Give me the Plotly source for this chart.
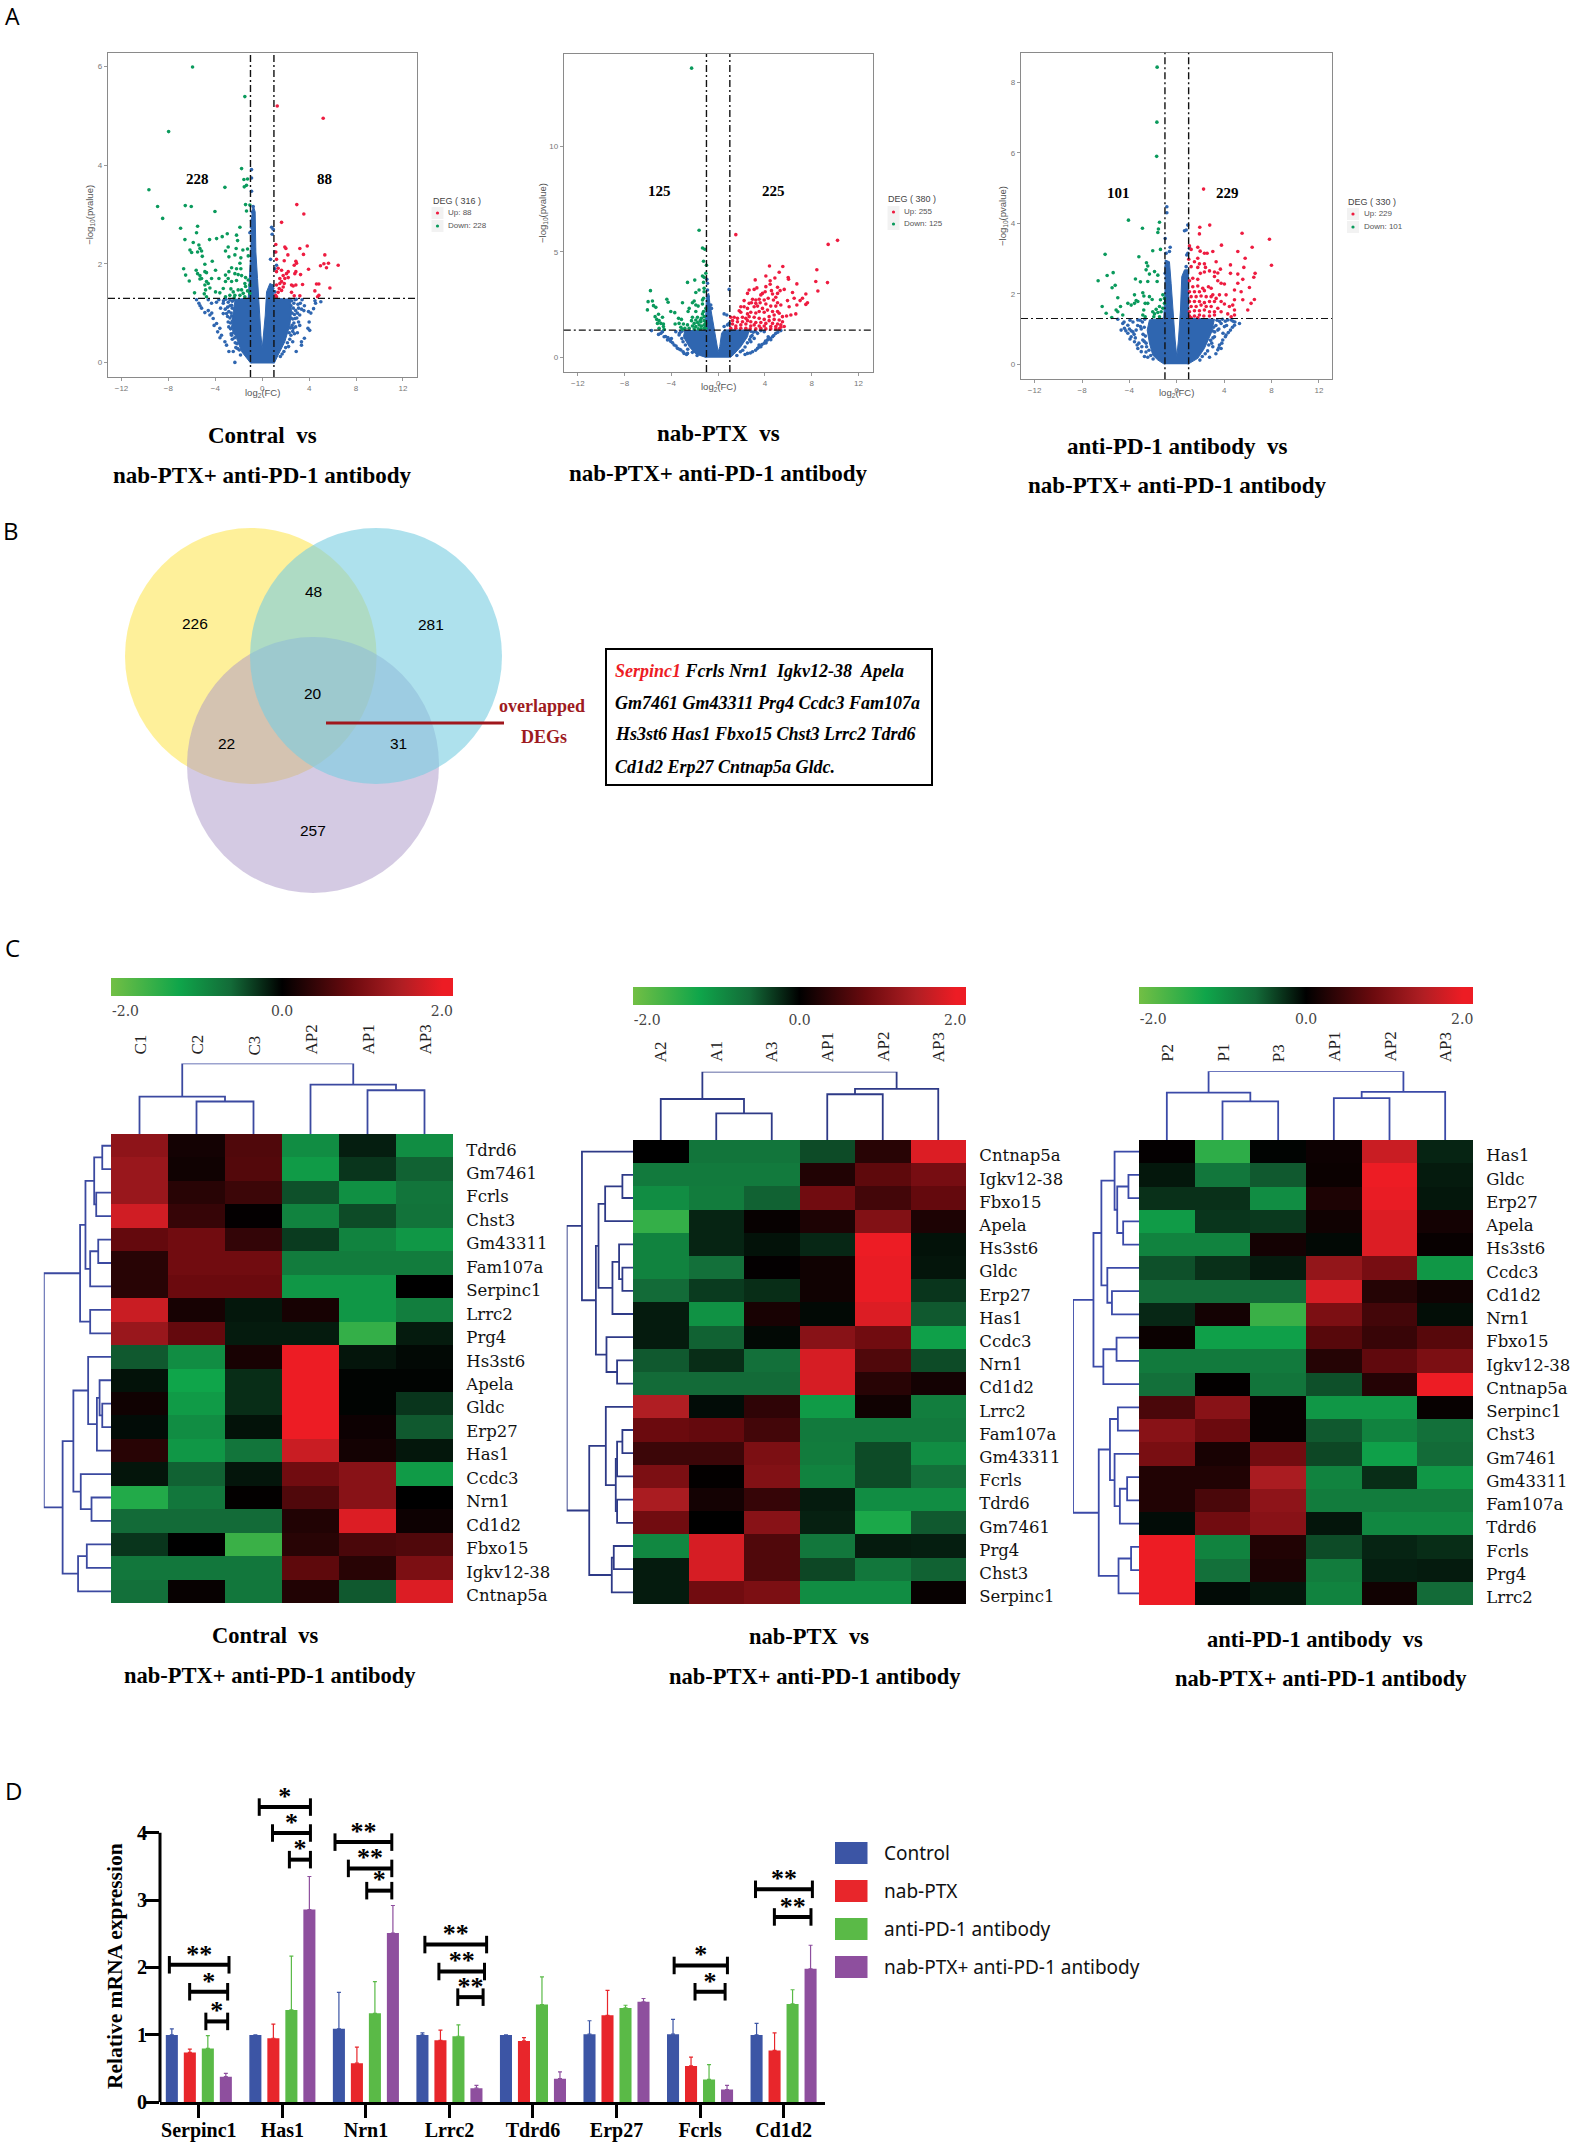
import plotly.graph_objects as go

W, H = 1577, 2143
SERIF = "Liberation Serif"
SANS = "Liberation Sans"

# ---- volcano data (log2FC, -log10 p)
v1_green = [(-5.94,5.99),(-1.48,5.39),(-7.98,4.68),(-1.76,3.93),(-9.66,3.5),(-3.18,3.55),(-1.56,3.71),(-1.25,3.72),(-1.53,3.56),(-1.34,3.59),
    (-8.92,3.16),(-6.56,3.18),(-6.05,3.16),(-8.49,2.92),(-4.03,3.06),(-1.42,3.2),(-1.05,3.19),(-1.34,3.07),(-6.96,2.72),(-5.51,2.76),(-5.6,2.63),
    (-1.9,2.74),(-2.98,2.61),(-3.41,2.55),(-3.89,2.51),(-4.49,2.49),(-6.59,2.49),(-5.88,2.43),(-2.19,2.58),(-2.1,2.47),(-2.22,2.31),(-5.4,2.38),
    (-5.31,2.31),(-5.17,2.26),(-6.16,2.28),(-5.51,2.24),(-6.02,2.23),(-5.11,2.15),(-2.9,2.34),(-3.13,2.26),(-2.84,2.14),(-1.65,2.28),(-1.25,2.3),
    (-1.19,2.16),(-1.82,2.12),(-2.33,2.18),(-1.9,2.01),(-4.26,2.05),(-6.7,1.9),(-4.89,1.99),(-6.53,1.77),(-6.22,1.65),(-5.63,1.87),(-5.51,1.8),
    (-5.31,1.76),(-5.17,1.7),(-4.89,1.84),(-4.75,1.82),(-5.31,1.69),(-3.98,1.87),(-4.32,1.7),(-3.69,1.7),(-4.75,1.64),(-4.6,1.6),(-4.89,1.57),
    (-4.83,1.47),(-4.94,1.39),(-4.75,1.33),(-4.46,1.51),(-5.77,1.41),(-2.84,1.84),(-2.61,1.92),(-2.19,1.9),(-1.82,1.9),(-2.33,1.8),(-3.13,1.77),
    (-2.9,1.7),(-2.61,1.64),(-2.05,1.78),(-1.76,1.76),(-1.42,1.72),(-1.19,1.67),(-1.48,1.6),(-2.19,1.66),(-3.13,1.64),(-3.32,1.5),(-2.67,1.49),
    (-2.47,1.43),(-2.05,1.47),(-1.76,1.47),(-1.42,1.54),(-1.05,1.57),(-1.25,1.45),(-1.62,1.4),(-1.9,1.36),(-2.33,1.36),(-2.76,1.36),(-3.13,1.33),
    (-1.48,1.33),(-1.05,1.4),(-2.39,1.31),(-3.61,1.41),(-3.98,1.43)]
v1_red = [(1.28,5.2),(5.2,4.95),(2.95,3.2),(3.55,3.01),(1.65,2.84),(1.16,2.39),(1.93,2.34),(2.02,2.31),(3.21,2.31),(3.84,2.36),(3.52,2.19),(2.19,2.18),
    (1.16,2.24),(1.22,2.09),(1.88,2.06),(5.34,2.18),(2.87,2.05),(2.93,2.01),(5.26,2.0),(5.65,2.01),(4.97,1.96),(5.48,1.92),(6.48,1.97),(3.95,1.89),
    (2.73,1.97),(1.36,1.91),(1.22,1.84),(1.65,1.87),(1.79,1.76),(2.07,1.8),(2.22,1.84),(1.5,1.7),(1.93,1.7),(2.22,1.72),(1.65,1.64),(1.88,1.6),(1.5,1.6),
    (1.22,1.57),(1.45,1.5),(1.79,1.53),(1.36,1.42),(1.14,1.36),(1.65,1.46),(1.22,1.33),(2.78,1.8),(3.27,1.78),(2.87,1.84),(2.64,1.55),(2.87,1.57),
    (3.44,1.58),(2.5,1.42),(2.73,1.35),(3.21,1.35),(4.63,1.59),(4.83,1.59),(5.77,1.51),(4.49,1.45),(4.83,1.36),(4.72,1.33),(2.5,1.57)]
v1_blue = [(-5.6,1.27),(-5.4,1.2),(-5.17,1.1),(-4.89,1.01),(-4.46,0.96),(-4.18,0.89),(-3.89,0.79),(-3.61,0.69),(-3.47,0.55),(-3.18,0.42),(-3.04,0.35),
    (-2.84,0.22),(-2.47,0.22),(-2.33,0),(-4.6,1.27),(-4.32,1.2),(-3.32,0.99),(-3.04,0.99),(-3.32,1.2),(-2.61,1.16),(-2.39,0.89),(-2.61,0.55),(-5.3,1.15),
    (-4.6,1.05),(-4.3,1.0),(-4.1,0.75),(-3.8,0.62),(-3.6,0.5),(5.0,1.23),(4.55,1.2),(4.38,1.09),(4.15,1.0),(4.0,0.82),(3.9,0.69),(3.6,0.49),(3.35,0.42),
    (3.35,0.35),(2.9,0.22),(3.2,0.96),(3.1,1.1),(2.8,0.89),(2.65,0.69),(2.8,1.27),(3.95,1.03),(4.5,1.25),(3.2,0.75),(3.0,1.0),(4.05,0.65),
    (-0.91,3.91),(-0.91,3.74),(-0.91,3.47),(-0.77,3.16),(-0.91,2.87),(-0.91,2.74),(-1.05,2.63),(-0.85,2.35),(0.8,2.74),(0.94,2.7),(0.85,2.6),(1.08,2.24),
    (0.71,2.09),(1.22,1.97),(1.08,1.9),(1.08,1.43),(-0.8,2.9),(-0.85,3.05),(-0.78,2.55),(-0.7,2.3),(-0.9,2.15),(0.9,1.5),(0.85,1.55),(0.95,1.35),
    (-3.3,1.25),(-3.1,1.28),(-2.9,1.22),(-2.75,1.27),(-2.55,1.24),(-2.4,1.27),(-2.95,1.12),(-2.75,1.15),(-2.55,1.1),(-3.15,1.08),(-2.85,1.03),(-2.65,1.0),
    (-2.95,.93),(-2.75,.9),(-2.6,.94),(-2.9,.82),(-2.7,.8),(-2.55,.84),(-2.85,.72),(-2.7,.68),(-2.5,.72),(-2.65,.58),(-2.45,.6),(-2.55,.47),(-2.35,.5),
    (-2.3,.4),(-2.15,.38),(-2.1,.28),(-1.95,.25),(-1.85,.15),(-2.25,.3),(-3.7,1.27),(-3.9,1.22),(-3.55,1.1),(2.3,1.28),(2.5,1.25),(2.7,1.2),(2.9,1.28),
    (2.45,1.15),(2.65,1.1),(2.85,1.05),(2.55,1.0),(2.75,.97),(2.6,.88),(2.45,.9),(2.7,.8),(2.55,.75),(2.4,.7),(2.6,.63),(2.45,.55),(2.3,.6),(2.35,.47),
    (2.15,.4),(2.25,.32),(2.0,.3),(1.85,.22),(1.7,.17),(1.55,.12),(3.05,1.18),(3.25,1.2),(3.4,1.27),(3.55,1.05),(3.35,1.08),(3.6,1.15),(2.95,.9),(3.1,.82),
    (2.85,.72),(3.0,.6),(2.75,.58),(2.6,.42)]
# outline of the solid blue mass
v1_mass = [(-0.97,-0.02),(-1.76,0.22),(-2.19,0.49),(-2.61,0.69),(-2.47,1.03),(-2.3,1.28),(-1.19,1.3),(-1.05,1.84),(-0.97,2.24),(-0.91,2.92),(-0.77,3.19),
    (-0.6,3.05),(-0.54,2.24),(-0.4,1.7),(-0.28,1.16),(-0.11,0.55),(0,0.28),(0.11,0.55),(0.26,0.96),(0.37,1.43),(0.65,1.6),(0.94,1.57),(1.0,1.3),
    (2.4,1.28),(2.5,1.03),(2.36,0.76),(1.93,0.42),(1.36,0.15),(1.02,-0.02)]

v2_green = [(-2.27,13.7),(-1.63,6.03),(-1.34,5.19),(-1.14,5.13),(-1.25,4.56),(-1,4.37),(-1.05,3.99),(-1.34,3.86),(-1.2,3.8),(-2,3.67),(-2.62,3.56),(-1.25,3.56),
    (-5.79,3.17),(-1.2,3.28),(-1.63,3.2),(-1.91,3.08),(-1.2,3.12),(-5.99,2.65),(-5.62,2.68),(-4.39,2.76),(-4.28,2.62),(-1.25,2.81),(-2.05,2.68),(-2.2,2.6),
    (-3.05,2.6),(-1.34,2.73),(-6.05,2.26),(-5.53,2.46),(-5.33,2.38),(-4.05,2.18),(-3.71,2.13),(-2.48,2.33),(-2.57,2.18),(-1.91,2.49),(-1.71,2.44),(-1.34,2.54),
    (-1.05,2.33),(-1.25,2.18),(-1.91,2.18),(-5.1,2.05),(-5.39,1.94),(-5.25,1.81),(-5.05,1.75),(-5.19,1.62),(-4.9,1.62),(-4.68,1.59),(-5.05,1.39),(-4.68,1.47),
    (-4.62,1.34),(-4.76,1.91),(-3.39,1.86),(-3.14,1.81),(-3.34,1.62),(-2.97,1.59),(-3.68,1.59),(-3.19,1.44),(-2.62,1.55),(-2.48,1.39),(-2.85,1.39),(-3.05,1.34),
    (-2.2,1.91),(-1.91,1.78),(-1.77,1.91),(-1.43,1.86),(-1.2,1.94),(-2.28,1.75),(-2.05,1.62),(-1.77,1.66),(-1.48,1.7),(-1.2,1.75),(-1.05,1.62),(-2.2,1.5),
    (-1.91,1.47),(-1.63,1.55),(-1.43,1.5),(-1.2,1.55),(-2.05,1.36),(-1.71,1.36),(-1.48,1.36),(-1.2,1.39),(-1.05,1.39),(-1.54,1.75),(-1.34,2.07)]
v2_red = [(1.51,5.82),(10.21,5.55),(9.41,5.36),(4.39,4.34),(5.53,4.31),(5.22,4.04),(4.08,3.86),(4.85,3.77),(5.99,3.79),(6.02,3.71),(8.44,4.16),(3.17,3.68),
    (4.45,3.64),(4.45,3.47),(6.73,3.49),(8.35,3.6),(9.35,3.55),(8.53,3.15),(4.08,3.36),(5.08,3.33),(3.31,3.3),(3.08,3.23),(2.65,3.2),(2.51,3.04),(5.3,3.17),
    (5.65,3.23),(4.56,3.17),(4.02,3.12),(3.79,3.04),(4.65,3.01),(5.08,3.04),(6.36,3.08),(7.5,3.01),(3.65,2.97),(4.93,2.86),(4.28,2.81),(6.5,2.81),(5.93,2.7),
    (7.21,2.81),(7.01,2.7),(7.64,2.6),(7.5,2.52),(2.22,2.7),(2.94,2.76),(3.22,2.73),(3.51,2.76),(3.94,2.73),(4.73,2.73),(5.08,2.6),(5.36,2.49),(6.73,2.49),
    (6.07,2.41),(2.65,2.57),(2.85,2.6),(3.22,2.57),(3.59,2.6),(4.08,2.54),(4.5,2.44),(4.93,2.44),(1.94,2.41),(2.22,2.41),(1.8,2.22),(2.51,2.33),(3.08,2.41),
    (3.37,2.44),(3.79,2.33),(4.22,2.25),(4.65,2.18),(5.08,2.18),(1.94,2.15),(2.51,2.07),(2.79,2.15),(3.22,2.11),(3.51,2.18),(3.94,2.15),(4.36,1.94),(4.79,2.02),
    (5.22,2.1),(6.22,2.02),(6.64,2.07),(5.85,1.97),(5.5,1.94),(1.08,1.91),(1.37,1.91),(1.65,1.86),(2.08,1.91),(2.37,1.86),(2.65,1.94),(3.08,1.91),(3.51,1.86),
    (3.94,1.81),(4.36,1.75),(4.79,1.81),(5.22,1.78),(5.5,1.7),(1.23,1.75),(1.65,1.7),(2.08,1.7),(2.51,1.75),(2.79,1.7),(3.22,1.66),(3.65,1.66),(4.08,1.62),
    (4.65,1.62),(5.08,1.59),(5.36,1.55),(1.23,1.59),(1.51,1.5),(1.94,1.55),(2.37,1.59),(2.79,1.5),(3.08,1.55),(3.51,1.5),(3.94,1.5),(4.5,1.47),(4.93,1.47),
    (5.36,1.44),(5.65,1.47),(1.08,1.39),(1.51,1.39),(1.94,1.39),(2.37,1.39),(2.74,1.36),(3.22,1.36),(3.65,1.39),(4.08,1.36),(4.5,1.36),(4.93,1.36),(5.22,1.36)]
v2_blue = [(-5.7,1.28),(-5.1,1.1),(-4.76,1.23),(-4.62,0.99),(-4.33,0.84),(-4.05,0.76),(-3.76,0.6),(-3.48,0.44),(-3.19,0.36),(-2.91,0.2),(-2.62,0.2),(-3.34,1.07),
    (-3.19,1.23),(-3.62,1.23),(-4.3,0.95),(-4,0.9),(5.36,1.28),(4.93,1.15),(4.65,0.99),(4.22,0.84),(3.94,0.68),(3.65,0.52),(3.37,0.44),(2.94,0.28),(2.51,0.2),
    (3.94,1.23),(3.37,1.15),(3.08,0.91),(3.65,1.28),(2.79,0.99),(4.28,0.99),(4.5,0.85),(4.1,0.7),(3.5,0.6),(2.8,0.75),(-0.97,3.71),(-0.91,3.52),(0.94,3.23),
    (-0.91,3.2),(-0.86,2.89),(-0.63,2.49),(-0.57,2.33),(0.51,2.07),(0.74,2.02),(0.51,1.47),(0.8,1.55),(0.94,1.62),
    (-3.1,1.25),(-3.3,1.15),(-3.1,.9),(-3.0,.75),(-2.8,.6),(-2.6,.4),(-2.2,.25),(-1.8,.1),(2.8,1.25),(3.0,1.2),(2.9,1.05),(2.7,.85),(2.5,.7),(2.3,.5),(2.1,.35),
    (1.9,.28),(1.6,.1),(3.2,1.25),(-4.9,1.15),(-4.5,1.0),(-4.15,.85),(-3.9,.7),(-3.6,.55),(-3.3,.4),(-3.0,.28),(5.1,1.2),(4.75,1.05),(4.4,.92),(4.05,.78),
    (3.75,.62),(3.5,.5),(3.2,.35),(2.75,.22),(2.3,.15),(-2.7,.15)]
v2_mass = [(-1,0),(-1.91,0.17),(-2.48,0.52),(-2.97,0.99),(-2.85,1.28),(-1.2,1.29),(-1.05,2.1),(-1,2.97),(-0.8,3.04),(-0.71,2.57),(-0.54,2.02),(-0.34,1.31),
    (-0.11,0.52),(0,0.28),(0.14,0.52),(0.29,1.15),(0.51,1.31),(2.65,1.31),(2.51,0.99),(1.94,0.52),(1.37,0.17),(1.03,0)]

v3_green = [(-1.66,8.43),(-1.68,6.87),(-1.7,5.9),(-4.08,4.09),(-2.9,3.86),(-1.46,4.03),(-1.55,3.84),(-1.6,3.74),(-6.05,3.12),(-3.2,3.05),(-2.03,3.22),(-1.38,3.26),
    (-2.56,2.88),(-2.45,2.79),(-2.59,2.68),(-5.37,2.6),(-5.88,2.52),(-6.64,2.37),(-2.31,2.56),(-1.88,2.63),(-1.6,2.53),(-3.49,2.42),(-3.07,2.34),(-2.45,2.35),
    (-1.66,2.35),(-5.2,2.24),(-5.46,2.17),(-4.98,1.89),(-3.57,1.97),(-2.87,2.03),(-2.78,1.94),(-2.31,1.92),(-2.08,1.84),(-2.45,1.73),(-2.67,1.73),(-3.43,1.81),
    (-3.29,1.78),(-3.57,1.73),(-4.13,1.73),(-3.85,1.68),(-6.3,1.64),(-5.96,1.45),(-5.49,1.33),(-4.98,1.49),(-4.75,1.64),(-4.56,1.4),(-5.12,1.54),(-1.18,1.97),
    (-1.04,1.87),(-1.38,1.83),(-1.04,1.73),(-1.46,1.64),(-1.18,1.59),(-1.74,1.56),(-2.03,1.49),(-1.6,1.47),(-1.88,1.43),(-1.32,1.49),(-1.94,1.35),(-1.46,1.35),
    (-2.79,1.54),(-2.87,1.4),(-2.67,1.35)]
v3_red = [(2.26,4.97),(1.94,3.89),(2.78,3.95),(1.91,3.7),(5.51,3.72),(7.82,3.55),(6.36,3.32),(3.77,3.38),(7.99,2.81),(1.07,3.36),(1.21,3.26),(1.77,3.32),(1.97,3.21),
    (2.33,3.15),(2.56,3.15),(3.04,3.2),(5.15,3.2),(5.77,3.01),(1.01,2.98),(1.77,3.01),(1.49,2.91),(1.91,2.85),(2.33,2.85),(2.42,2.75),(3.32,2.91),(1.77,2.75),
    (1.21,2.77),(4.53,2.82),(5.66,2.75),(3.68,2.7),(2.76,2.65),(3.18,2.62),(3.46,2.59),(4.53,2.58),(5.15,2.56),(5.57,2.41),(6.61,2.58),(6.5,2.47),(2.33,2.62),
    (1.99,2.58),(1.35,2.44),(1.77,2.41),(1.07,2.37),(3.46,2.37),(3.18,2.49),(3.74,2.3),(5.15,2.3),(6.13,2.18),(4.87,2.11),(5.43,2.06),(6.55,1.84),(6.27,1.73),
    (5.57,1.83),(4.87,1.83),(4.72,1.68),(5.99,1.54),(4.02,2.28),(1.35,2.2),(1.77,2.22),(2.19,2.16),(2.67,2.2),(2.9,2.16),(1.07,2.06),(1.49,2.06),(1.91,2.06),
    (2.33,2.09),(3.04,1.97),(3.6,1.97),(4.16,1.97),(1.21,1.92),(1.63,1.92),(2.05,1.94),(2.48,1.92),(2.9,1.92),(3.32,1.87),(1.07,1.78),(1.49,1.78),(1.91,1.78),
    (2.33,1.75),(2.76,1.78),(3.18,1.78),(3.74,1.78),(4.02,1.71),(1.21,1.64),(1.63,1.64),(2.05,1.68),(2.48,1.64),(2.9,1.64),(3.46,1.59),(4.44,1.64),(1.07,1.49),
    (1.49,1.52),(1.91,1.52),(2.33,1.54),(2.76,1.49),(3.18,1.49),(3.74,1.49),(4.87,1.54),(1.07,1.37),(1.49,1.37),(1.91,1.4),(2.28,1.37),(2.76,1.37),(3.18,1.4),
    (4.3,1.43),(4.87,1.4),(4.59,1.35),(1.21,1.32),(1.77,1.32)]
v3_blue = [(-4.98,1.28),(-4.7,0.97),(-4.42,1.02),(-4.13,0.88),(-3.85,0.78),(-3.57,0.64),(-3.29,0.45),(-3,0.36),(-2.73,0.22),(-2.45,0.2),(-4.56,1.16),(-4.13,1.11),
    (-3.43,0.97),(-3.29,1.26),(-3.07,1.07),(-2.87,0.69),(-2.59,0.6),(-4,1.0),(-3.7,0.92),(5.29,1.16),(4.87,1.11),(4.53,0.97),(4.16,0.83),(3.88,0.69),(3.6,0.55),
    (3.46,0.41),(2.76,0.2),(4.59,1.26),(3.74,1.16),(3.46,0.97),(3.18,0.78),(4.02,1.07),(4.3,1.26),(3.04,0.5),(3.74,0.45),(-0.84,4.47),(-0.84,4.3),(-0.98,3.57),
    (-0.56,3.32),(-0.9,3.15),(-0.62,3.2),(0.79,3.81),(0.93,3.95),(0.65,3.79),(1.07,3.29),(0.93,3.15),(0.79,2.77),(-0.9,2.77),(-0.98,2.58),(0.84,3.1),
    (-3.1,1.25),(-2.9,1.2),(-2.7,1.28),(-3.3,1.1),(-3,1.0),(-2.75,1.05),(-2.85,.85),(-2.65,.8),(-2.75,.65),(-2.55,.5),(-2.35,.4),(-2.2,.25),(-2,.15),(-3.5,.75),
    (-3.2,.6),(-2.95,.5),(-2.6,.35),(-3.7,1.2),(-3.95,1.25),(-4.3,.95),(-4.45,1.2),(-3.85,.95),(-3.6,.85),(-3.95,.72),(-3.35,.55),(3.4,1.25),(3.6,1.22),(3.85,1.28),
    (3.3,1.1),(3.1,1.05),(3.55,1.0),(3.2,.92),(3.0,.95),(3.05,.75),(2.85,.68),(2.95,.6),(2.7,.55),(2.6,.38),(2.4,.3),(2.15,.22),(1.95,.12),(4.1,1.22),(4.9,1.2),
    (4.7,1.05),(4.35,.9),(4.1,.78),(3.8,.6),(3.55,.47),(3.3,.3),(4.75,1.22),(3.9,.88),(4.2,1.1)]
v3_mass = [(-1.04,0),(-1.6,0.12),(-2.03,0.26),(-2.31,0.6),(-2.5,0.97),(-2.31,1.26),(-1.1,1.31),(-0.98,2.2),(-0.98,2.96),(-0.62,2.91),(-0.48,2.3),(-0.34,1.54),
    (-0.14,0.69),(0,0.22),(0.14,0.69),(0.31,1.54),(0.42,2.49),(0.65,2.68),(0.98,2.68),(0.98,1.31),(3.18,1.28),(2.9,0.88),(2.33,0.45),(1.77,0.17),(0.93,0)]

# ---- heatmap data, panel C
h1_cols = ["C1", "C2", "C3", "AP2", "AP1", "AP3"]
h1_rows = ["Tdrd6","Gm7461","Fcrls","Chst3","Gm43311","Fam107a","Serpinc1","Lrrc2","Prg4","Hs3st6","Apela","Gldc","Erp27","Has1","Ccdc3","Nrn1","Cd1d2","Fbxo15","Igkv12-38","Cntnap5a"]
h1_z = [[1.1,.15,.6,-.95,-.17,-.95],[1.2,.12,.62,-1.1,-.3,-.55],[1.2,.3,.45,-.45,-.98,-.7],[1.65,.4,.03,-.85,-.42,-.68],[.75,.85,.38,-.33,-.85,-1.05],
    [.3,.85,.85,-.78,-.78,-.78],[.3,.8,.8,-1.05,-1.05,0],[1.6,.17,-.13,.17,-1.05,-.8],[1.2,.75,-.15,-.15,-1.5,-.15],[-.5,-.95,.18,2,-.12,-.05],
    [-.1,-1.2,-.25,2,-.02,-.02],[.12,-1.1,-.25,2,-.02,-.3],[-.07,-.95,-.1,2,.1,-.5],[.3,-1.05,-.7,1.6,.15,-.13],[-.12,-.55,-.12,.85,1.05,-1.1],
    [-1.35,-.72,.02,.6,1.05,0],[-.6,-.6,-.6,.25,1.75,.1],[-.3,0,-1.55,.3,.55,.6],[-.72,-.72,-.72,.7,.3,.95],[-.65,.05,-.72,.25,-.5,1.75]]
h1_col_tree = [1, [.53, 0, [.46, 1, 2]], [.70, 3, [.62, 4, 5]]]
h1_row_tree = [1,
    [.46, [.38, [.25, [.13, 0, 1], [.22, 2, 3]], [.31, [.19, 4, 5], 6]], [.31, 7, 8]],
    [.72, [.56, [.34, 9, [.21, [.17, 10, [.13, 11, 12]], 13]], [.45, 14, [.29, 15, 16]]], [.49, [.36, 17, 18], 19]]]

h2_cols = ["A2", "A1", "A3", "AP1", "AP2", "AP3"]
h2_rows = ["Cntnap5a","Igkv12-38","Fbxo15","Apela","Hs3st6","Gldc","Erp27","Has1","Ccdc3","Nrn1","Cd1d2","Lrrc2","Fam107a","Gm43311","Fcrls","Tdrd6","Gm7461","Prg4","Chst3","Serpinc1"]
h2_z = [[0,-.7,-.7,-.42,.3,1.75],[-.75,-.75,-.75,.25,.7,.9],[-.95,-.78,-.55,.85,.5,.75],[-1.5,-.2,.05,.22,1,.22],[-.85,-.2,-.1,-.22,2,-.1],
    [-.85,-.65,.03,.12,1.85,-.12],[-.6,-.33,-.25,.12,1.85,-.3],[-.15,-1,.18,-.05,1.75,-.5],[-.15,-.55,-.05,1.05,.85,-1.15],[-.5,-.25,-.65,1.7,.6,-.42],
    [-.6,-.6,-.6,1.7,.3,.15],[1.4,-.07,.35,-1.1,.12,-.8],[.8,.75,.5,-.75,-.75,-.75],[.45,.45,.95,-.78,-.42,-.95],[.95,.02,1,-.85,-.42,-.65],
    [1.35,.15,.4,-.15,-.95,-.95],[.85,0,1.05,-.18,-1.3,-.5],[-.9,1.7,.6,-.72,-.15,-.17],[-.15,1.7,.6,-.4,-.72,-.55],[-.15,.85,.95,-.95,-.95,.05]]
h2_col_tree = [1, [.60, 0, [.39, 1, 2]], [.75, [.67, 3, 4], 5]]
h2_row_tree = [1,
    [.77, 0, [.56, [.52, [.42, [.16, 1, 2], 3], [.31, [.21, 4, [.16, 5, 6]], 7]], [.40, 8, [.24, 9, 10]]]],
    [.66, [.41, 11, [.26, [.24, [.16, 12, 13], 14], [.24, 15, 16]]], [.32, [.29, 17, 18], 19]]]

h3_cols = ["P2", "P1", "P3", "AP1", "AP2", "AP3"]
h3_rows = ["Has1","Gldc","Erp27","Apela","Hs3st6","Ccdc3","Cd1d2","Nrn1","Fbxo15","Igkv12-38","Cntnap5a","Serpinc1","Chst3","Gm7461","Gm43311","Fam107a","Tdrd6","Fcrls","Prg4","Lrrc2"]
h3_z = [[.03,-1.45,-.02,.1,1.6,-.2],[-.13,-.72,-.5,.08,2,-.15],[-.27,-.27,-.95,.22,1.85,-.13],[-1.1,-.3,-.32,.12,1.75,.15],[-.85,-.85,.15,-.05,1.75,.06],
    [-.45,-.27,-.15,1.15,.9,-1.05],[-.6,-.6,-.6,1.7,.28,.12],[-.22,.15,-1.55,.95,.5,-.08],[.08,-1.15,-1.15,.65,.42,.65],[-.75,-.75,-.75,.28,.72,.95],
    [-.65,.02,-.7,-.45,.27,1.9],[.55,1.05,.06,-1.05,-1.05,.05],[1.05,.8,.06,-.5,-.85,-.65],[.92,.18,.85,-.4,-1.15,-.6],[.25,.25,1.35,-.85,-.25,-1.05],
    [.25,.55,1.1,-.78,-.78,-.78],[-.07,.85,1.05,-.12,-.9,-.9],[2,-.85,.25,-.42,-.2,-.25],[2,-.65,.2,-.78,-.17,-.15],[2,-.06,-.12,-.85,.13,-.6]]
h3_col_tree = [1, [.69, 0, [.56, 1, 2]], [.70, [.61, 3, 4], 5]]
h3_row_tree = [1,
    [.69, [.57, [.37, 0, [.33, [.16, 1, 2], [.24, 3, 4]]], [.48, 5, [.41, 6, 7]]], [.54, [.34, 8, 9], 10]],
    [.61, [.44, [.32, 11, 12], [.37, 13, [.29, [.18, 14, 15], 16]]], [.31, [.12, 17, 18], 19]]]

# ---- bar data, panel D
genes = ["Serpinc1", "Has1", "Nrn1", "Lrrc2", "Tdrd6", "Erp27", "Fcrls", "Cd1d2"]
groups = ["Control", "nab-PTX", "anti-PD-1 antibody", "nab-PTX+ anti-PD-1 antibody"]
bar_colors = ["#3c55a5", "#e8262b", "#5aba47", "#8e4f9e"]
control_vals = [1.0, 1.0, 1.09, 1.0, 1.0, 1.01, 1.01, 1.0]
control_err = [.09, 0, .54, .03, 0, .2, .22, .17]
nab_vals = [.74, .95, .58, .92, .91, 1.29, .54, .77]
nab_err = [.05, .21, .24, .15, .05, .37, .13, .26]
anti_vals = [.80, 1.37, 1.32, .98, 1.45, 1.40, .34, 1.46]
anti_err = [.19, .8, .47, .17, .41, .04, .22, .21]
combo_vals = [.38, 2.86, 2.51, .21, .35, 1.49, .19, 1.98]
combo_err = [.05, .49, .41, .04, .1, .05, .06, .35]
# gene index, left, right (offset from the gene), height, stars
brackets = [(0,-.353,.361,2.04,"**"),(0,-.11,.345,1.64,"*"),(0,.084,.345,1.2,"*"),
    (1,-.277,.336,4.38,"*"),(1,-.118,.336,3.995,"*"),(1,.084,.336,3.6,"*"),
    (2,-.37,.31,3.86,"**"),(2,-.21,.31,3.47,"**"),(2,.01,.31,3.14,"*"),
    (3,-.294,.445,2.34,"**"),(3,-.126,.42,1.94,"**"),(3,.1,.403,1.56,"**"),
    (6,-.31,.328,2.03,"*"),(6,-.06,.3,1.64,"*"),
    (7,-.336,.345,3.16,"**"),(7,-.11,.328,2.75,"**")]

heat_scale = [[0, "#72bf44"], [.2, "#0fa54a"], [.35, "#136b38"], [.5, "#000000"], [.7, "#6b0a0e"], [.85, "#b01e23"], [.97, "#ed1c24"], [1, "#ed1c24"]]

def px(x):
    return x / W
def py(y):
    return 1 - y / H
def dom_x(a, b):
    return [a / W, b / W]
def dom_y(top, bottom):
    return [1 - bottom / H, 1 - top / H]

fig = go.Figure()
axes = {}
annots = []
shapes = []

def text(x, y, s, size, family=SERIF, color="#000", anchor="center", angle=0, vanchor="middle"):
    annots.append(dict(x=px(x), y=py(y), xref="paper", yref="paper", text=s, showarrow=False, xanchor=anchor, yanchor=vanchor,
                       textangle=angle, align="left", font=dict(family=family, size=size, color=color)))

def set_axes(i, xa, ya):
    axes[f"xaxis{i}"] = dict(anchor=f"y{i}", **xa)
    axes[f"yaxis{i}"] = dict(anchor=f"x{i}", **ya)

# ---- panel A
volcanoes = [
    dict(ax=21, box=(108, 417, 52.7, 377), xr=[-13.15, 13.2], yr=[-0.296, 6.28], yt=[0, 2, 4, 6], blue=v1_blue, mass=v1_mass, green=v1_green, red=v1_red,
         deg="DEG ( 316 )", up="Up: 88", down="Down: 228", leg=(431, 201, 446, 213, 226, 437.5), ytitle=90, xtitle=393,
         n=[("228", 197.5, 179), ("88", 324, 179)], t=("Contral\u00a0\u00a0vs", 262, 435, 475)),
    dict(ax=22, box=(563.8, 872.5, 54, 372), xr=[-13.2, 13.2], yr=[-0.68, 14.37], yt=[0, 5, 10], blue=v2_blue, mass=v2_mass, green=v2_green, red=v2_red,
         deg="DEG ( 380 )", up="Up: 255", down="Down: 125", leg=(886, 199, 902, 212, 224, 893.5), ytitle=543, xtitle=387,
         n=[("125", 659.5, 191), ("225", 773.6, 191)], t=("nab-PTX\u00a0\u00a0vs", 718, 433, 473)),
    dict(ax=23, box=(1021, 1332, 52.7, 379.3), xr=[-13.15, 13.1], yr=[-0.425, 8.84], yt=[0, 2, 4, 6, 8], blue=v3_blue, mass=v3_mass, green=v3_green, red=v3_red,
         deg="DEG ( 330 )", up="Up: 229", down="Down: 101", leg=(1346, 202, 1362, 214, 227, 1353), ytitle=1003, xtitle=393,
         n=[("101", 1118.6, 193), ("229", 1227.7, 193)], t=("anti-PD-1 antibody\u00a0\u00a0vs", 1177, 446, 485)),
]
for v in volcanoes:
    i = v["ax"]
    x0, x1, y0, y1 = v["box"]
    frame = dict(showgrid=False, zeroline=False, showline=True, mirror=True, linecolor="#8a8a8a", linewidth=1.2, ticks="outside", ticklen=3, tickcolor="#999",
                 tickfont=dict(family=SANS, size=8, color="#777"))
    set_axes(i, dict(domain=dom_x(x0, x1), range=v["xr"], tickvals=[-12, -8, -4, 0, 4, 8, 12], **frame),
             dict(domain=dom_y(y0, y1), range=v["yr"], tickvals=v["yt"], **frame))
    fig.add_trace(go.Scatter(x=[p[0] for p in v["mass"]], y=[p[1] for p in v["mass"]], mode="lines", fill="toself", fillcolor="#2f66b0",
                             line=dict(color="#2f66b0", width=1), xaxis=f"x{i}", yaxis=f"y{i}", showlegend=False, hoverinfo="skip"))
    for pts, col in [(v["blue"], "#2f66b0"), (v["green"], "#0a9a5c"), (v["red"], "#ee1c40")]:
        fig.add_trace(go.Scatter(x=[p[0] for p in pts], y=[p[1] for p in pts], mode="markers", marker=dict(color=col, size=3.6),
                                 xaxis=f"x{i}", yaxis=f"y{i}", showlegend=False))
    for s in (-1, 1):
        shapes.append(dict(type="line", xref=f"x{i}", yref=f"y{i} domain", x0=s, x1=s, y0=0, y1=1, line=dict(color="#111", width=1.4, dash="7px,3px,2px,3px")))
    shapes.append(dict(type="line", xref=f"x{i} domain", yref=f"y{i}", x0=0, x1=1, y0=1.3, y1=1.3, line=dict(color="#111", width=1.2, dash="7px,3px,2px,3px")))
    text((x0 + x1) / 2, v["xtitle"], "log<sub>2</sub>(FC)", 9.5, SANS, "#555")
    text(v["ytitle"], (y0 + y1) / 2, "\u2212log<sub>10</sub>(pvalue)", 9.5, SANS, "#555", angle=-90)
    for s, a, b in v["n"]:
        text(a, b, f"<b>{s}</b>", 15)
    dx, dy, tx, uy, ly, mx = v["leg"]
    text(dx, dy, v["deg"], 9, SANS, "#444", "left")
    text(tx, uy, v["up"], 8, SANS, "#555", "left")
    text(tx, ly, v["down"], 8, SANS, "#555", "left")
    for yy, col in [(uy, "#ee1c40"), (ly, "#0a9a5c")]:
        shapes.append(dict(type="rect", xref="paper", yref="paper", x0=px(mx - 6), x1=px(mx + 6), y0=py(yy - 6), y1=py(yy + 6), fillcolor="#f2f2f2", line_width=0))
        shapes.append(dict(type="circle", xref="paper", yref="paper", x0=px(mx - 1.6), x1=px(mx + 1.6), y0=py(yy - 1.6), y1=py(yy + 1.6), fillcolor=col, line_width=0))
    title, cx, t1, t2 = v["t"]
    text(cx, t1, f"<b>{title}</b>", 23)
    text(cx, t2, "<b>nab-PTX+ anti-PD-1 antibody</b>", 23)

text(3, 16.5, "A", 23, "Open Sans", "#000", "left")
text(1, 530, "B", 24, "Open Sans", "#000", "left")
text(3, 947, "C", 24, "Open Sans", "#000", "left")
text(3, 1790, "D", 24, "Open Sans", "#000", "left")

# ---- panel B
venn_sets = [("rgba(253,232,100,0.65)", 125, 376.6, 528, 784), ("rgba(170,150,200,0.5)", 187, 439, 637, 893), ("rgba(120,205,225,0.6)", 250, 502, 528, 784)]
for col, a, b, c, d in venn_sets:
    shapes.append(dict(type="circle", xref="paper", yref="paper", x0=px(a), x1=px(b), y0=py(c), y1=py(d), fillcolor=col, line_width=0, layer="below"))
venn_labels = [("226", 195, 623), ("48", 313, 591), ("281", 430.5, 624), ("20", 313, 693), ("22", 226, 743), ("31", 399, 743), ("257", 313, 830)]
for s, a, b in venn_labels:
    text(a, b, s, 15.5, SANS)
shapes.append(dict(type="line", xref="paper", yref="paper", x0=px(326), x1=px(504), y0=py(723), y1=py(723), line=dict(color="#a0171c", width=3)))
text(542, 706, "<b>overlapped</b>", 18, SERIF, "#9e1b1f")
text(544, 737, "<b>DEGs</b>", 18, SERIF, "#9e1b1f")
shapes.append(dict(type="rect", xref="paper", yref="paper", x0=px(606), x1=px(932), y0=py(649), y1=py(785), line=dict(color="#000", width=2)))
box_lines = ['<span style="color:#ed1c24">Serpinc1</span> Fcrls Nrn1\u00a0\u00a0Igkv12-38\u00a0\u00a0Apela',
             "Gm7461 Gm43311 Prg4 Ccdc3 Fam107a",
             "Hs3st6 Has1 Fbxo15 Chst3 Lrrc2 Tdrd6",
             "Cd1d2 Erp27 Cntnap5a Gldc."]
for s, b in zip(box_lines, [671, 703, 734, 767]):
    text(613, b, f"<b><i>{s}</i></b>", 18, anchor="left")

# ---- panel C
def dendro(node, hs, ps):
    # walks a nested [height, left, right] tree, leaves are row or column numbers
    if not isinstance(node, list):
        return node, 0
    h, left, right = node
    p1, h1 = dendro(left, hs, ps)
    p2, h2 = dendro(right, hs, ps)
    ps += [p1, p1, p2, p2, None]
    hs += [h1, h, h, h2, None]
    return (p1 + p2) / 2, h

heatmaps = [
    dict(ax=4, rows=h1_rows, cols=h1_cols, z=h1_z, ct=h1_col_tree, rt=h1_row_tree, box=(111, 453, 1134, 1603), cb=(978, 996), ch=70.6, rw=67.2, lab=1057, col="#3b49a0",
         t=("Contral\u00a0\u00a0vs", 264.5, 1635, 270, 1675)),
    dict(ax=8, rows=h2_rows, cols=h2_cols, z=h2_z, ct=h2_col_tree, rt=h2_row_tree, box=(633, 966, 1140, 1604), cb=(987, 1005), ch=68.3, rw=66.3, lab=1064, col="#2e3a87",
         t=("nab-PTX\u00a0\u00a0vs", 809, 1636, 815, 1676)),
    dict(ax=12, rows=h3_rows, cols=h3_cols, z=h3_z, ct=h3_col_tree, rt=h3_row_tree, box=(1139, 1473, 1140, 1605), cb=(987, 1004), ch=68.8, rw=66, lab=1064, col="#3b4aa8",
         t=("anti-PD-1 antibody\u00a0\u00a0vs", 1315, 1639, 1321, 1678)),
]
for h in heatmaps:
    i = h["ax"]
    x0, x1, y0, y1 = h["box"]
    fig.add_trace(go.Heatmap(z=h["z"], x=h["cols"], y=h["rows"], zmin=-2, zmax=2, colorscale=heat_scale, xaxis=f"x{i}", yaxis=f"y{i}",
                             colorbar=dict(orientation="h", x=px(x0), xanchor="left", y=py(h["cb"][0]), yanchor="top", len=x1 - x0, lenmode="pixels",
                                           thickness=h["cb"][1] - h["cb"][0], thicknessmode="pixels", xpad=0, ypad=0, outlinewidth=0, ticks="outside", ticklen=4, tickcolor="rgba(0,0,0,0)",
                                           tickvals=[-1.83, 0, 1.87], ticktext=["-2.0", "0.0", "2.0"], tickfont=dict(family="DejaVu Serif", size=14, color="#444"))))
    set_axes(i, dict(domain=dom_x(x0, x1), visible=False),
             dict(domain=dom_y(y0, y1), autorange="reversed", side="right", showgrid=False, zeroline=False, ticks="outside", ticklen=9, tickcolor="rgba(0,0,0,0)",
                  tickfont=dict(family="DejaVu Serif", size=16.5, color="#111"), tickmode="array", tickvals=h["rows"], ticktext=h["rows"], ticklabelshift=-4))
    # column tree
    ps, hs = [], []
    dendro(h["ct"], hs, ps)
    fig.add_trace(go.Scatter(x=ps, y=hs, mode="lines", line=dict(color=h["col"], width=1.8), xaxis=f"x{i+1}", yaxis=f"y{i+1}", showlegend=False, hoverinfo="skip"))
    set_axes(i + 1, dict(domain=dom_x(x0, x1), range=[-.5, 5.5], visible=False), dict(domain=dom_y(y0 - h["ch"], y0), range=[0, 1], visible=False))
    # row tree
    ps, hs = [], []
    dendro(h["rt"], hs, ps)
    fig.add_trace(go.Scatter(x=hs, y=ps, mode="lines", line=dict(color=h["col"], width=1.8), xaxis=f"x{i+2}", yaxis=f"y{i+2}", showlegend=False, hoverinfo="skip"))
    set_axes(i + 2, dict(domain=dom_x(x0 - h["rw"], x0), range=[1, 0], visible=False), dict(domain=dom_y(y0, y1), range=[19.5, -.5], visible=False))
    for k, c in enumerate(h["cols"]):
        text(x0 + (x1 - x0) * (k + .5) / 6, h["lab"], c, 17, SERIF, "#222", angle=-90, vanchor="bottom")
    a, b, c, d, e = h["t"]
    text(b, c, f"<b>{a}</b>", 22.5)
    text(d, e, "<b>nab-PTX+ anti-PD-1 antibody</b>", 22.5)

# ---- panel D
for name, col, vals, err in zip(groups, bar_colors, [control_vals, nab_vals, anti_vals, combo_vals], [control_err, nab_err, anti_err, combo_err]):
    fig.add_trace(go.Bar(x=list(range(8)), y=vals, name=name, marker=dict(color=col, line_width=0), showlegend=False, xaxis="x16", yaxis="y16",
                         error_y=dict(type="data", symmetric=False, array=err, arrayminus=[0] * 8, color=col, thickness=1.2, width=2)))
bx, by = [], []
for g, a, b, y, stars in brackets:
    bx += [g + a, g + b, None]
    by += [y, y, None]
fig.add_trace(go.Scatter(x=bx, y=by, mode="lines", line=dict(color="#000", width=4), xaxis="x16", yaxis="y16", showlegend=False, hoverinfo="skip"))
cx, cy = [], []
for g, a, b, y, stars in brackets:
    cx += [g + a, g + a, None, g + b, g + b, None]
    cy += [y - .13, y + .13, None, y - .13, y + .13, None]
fig.add_trace(go.Scatter(x=cx, y=cy, mode="lines", line=dict(color="#000", width=3), xaxis="x16", yaxis="y16", showlegend=False, hoverinfo="skip"))
fig.add_trace(go.Scatter(x=[g + (a + b) / 2 for g, a, b, y, s in brackets], y=[y + .13 for g, a, b, y, s in brackets], text=[s for g, a, b, y, s in brackets],
                         mode="text", textposition="middle center", textfont=dict(family=SERIF, size=26, color="#000", weight="bold"),
                         xaxis="x16", yaxis="y16", showlegend=False, cliponaxis=False, hoverinfo="skip"))
set_axes(16, dict(domain=dom_x(160, 825), range=[-.465, 7.496], tickvals=list(range(8)), ticktext=genes, showgrid=False, zeroline=False, showline=True, linecolor="#000", linewidth=3,
                  ticks="outside", ticklen=13, tickwidth=3, tickcolor="#000", ticklabelstandoff=-5, tickfont=dict(family=SERIF, size=20, color="#000", weight="bold")),
         dict(domain=dom_y(1770, 2102.3), range=[0, 4.93], tickvals=[0, 1, 2, 3, 4], showgrid=False, zeroline=False, showline=False,
              ticks="outside", ticklen=14, tickwidth=3, tickcolor="#000", ticklabelstandoff=-6, tickfont=dict(family=SERIF, size=20, color="#000", weight="bold")))
shapes.append(dict(type="line", xref="x16 domain", yref="y16", x0=0, x1=0, y0=0, y1=4, line=dict(color="#000", width=3)))
text(115, 1966, "<b>Relative mRNA expression</b>", 21.5, angle=-90)
for name, col, top in zip(groups, bar_colors, [1842, 1880, 1918, 1956]):
    shapes.append(dict(type="rect", xref="paper", yref="paper", x0=px(835), x1=px(867.5), y0=py(top), y1=py(top + 22), fillcolor=col, line_width=0))
    text(881.5, top + 11, name, 19, "Noto Sans", "#111", "left")

fig.update_layout(width=W, height=H, margin=dict(l=0, r=0, t=0, b=0, autoexpand=False), paper_bgcolor="white", plot_bgcolor="white",
                  barmode="group", bargap=.138, bargroupgap=.33, annotations=annots, shapes=shapes, **axes)
fig.write_html("out.html", config={"displayModeBar": False}, post_script="document.body.style.margin='0';")
